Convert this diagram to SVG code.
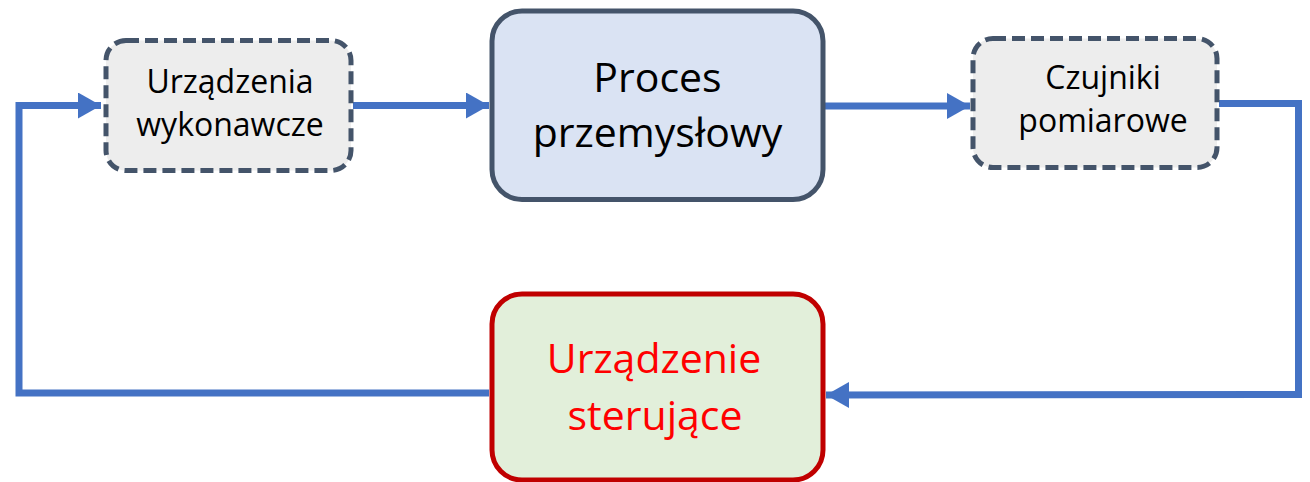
<svg xmlns="http://www.w3.org/2000/svg" width="1310" height="482" viewBox="0 0 1310 482">
  <style>
    .conn { fill: none; stroke: #4472C4; stroke-width: 7; stroke-linejoin: miter; }
    .dash { fill: #EDEDED; stroke: #44546A; stroke-width: 5; stroke-dasharray: 13 6; }
    .main { fill: #DAE3F3; stroke: #44546A; stroke-width: 5; }
    .ctrl { fill: #E2EFDA; stroke: #C00000; stroke-width: 5; }
    .t { font-family: "Open Sans", "Noto Sans", "DejaVu Sans", sans-serif; text-anchor: middle; fill: #000000; }
    .small { font-size: 32px; }
    .big { font-size: 41px; }
    .red { fill: #FF0000; }
  </style>
  <defs>
    <marker id="arrow" markerUnits="userSpaceOnUse" markerWidth="26" markerHeight="28" refX="23" refY="13" orient="auto">
      <path d="M0,0 L23,13 L0,26 Z" fill="#4472C4"/>
    </marker>
  </defs>
  <rect width="1310" height="482" fill="#FFFFFF"/>
  <g id="connectors">
    <path class="conn" d="M353,105.5 L489,105.5" marker-end="url(#arrow)"/>
    <path class="conn" d="M825,106 L970,106" marker-end="url(#arrow)"/>
    <path class="conn" d="M1219,103.5 L1298.5,103.5 L1298.5,394.5 L826,395" marker-end="url(#arrow)"/>
    <path class="conn" d="M489,393 L19,393 L19,105.5 L101,105.5" marker-end="url(#arrow)"/>
  </g>
  <g id="node-wykonawcze">
    <rect class="dash" x="106" y="40.5" width="245" height="130" rx="20"/>
    <text class="t small" x="230" y="93">Urządzenia</text>
    <text class="t small" x="230" y="136">wykonawcze</text>
  </g>
  <g id="node-proces">
    <rect class="main" x="492" y="11" width="331" height="188.5" rx="30"/>
    <text class="t big" x="657.5" y="92">Proces</text>
    <text class="t big" x="657.5" y="147">przemysłowy</text>
  </g>
  <g id="node-czujniki">
    <rect class="dash" x="973" y="38.5" width="244" height="129" rx="20"/>
    <text class="t small" x="1103" y="89">Czujniki</text>
    <text class="t small" x="1103" y="132">pomiarowe</text>
  </g>
  <g id="node-sterujace">
    <rect class="ctrl" x="492" y="294" width="331" height="186" rx="30"/>
    <text class="t big red" x="654" y="373">Urządzenie</text>
    <text class="t big red" x="655" y="430">sterujące</text>
  </g>
</svg>
